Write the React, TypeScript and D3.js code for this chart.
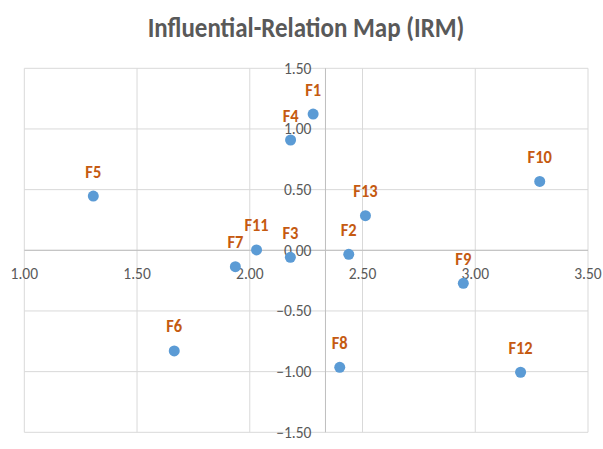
import * as React from "react";
import { format, mean, scaleLinear } from "d3";

// factors and their (D+R, D-R) coordinates
const factors = ["F1", "F2", "F3", "F4", "F5", "F6", "F7", "F8", "F9", "F10", "F11", "F12", "F13"];
const prominence = [2.281, 2.439, 2.18, 2.181, 1.306, 1.665, 1.936, 2.399, 2.947, 3.286, 2.03, 3.201, 2.513];
const relation = [1.123, -0.033, -0.058, 0.909, 0.447, -0.829, -0.135, -0.964, -0.272, 0.568, 0.003, -1.005, 0.285];

const xTicks = [1, 1.5, 2, 2.5, 3, 3.5];
const yTicks = [-1.5, -1, -0.5, 0, 0.5, 1, 1.5];

const W = 603;
const H = 449;
const FONT = "Carlito, Lato, 'Open Sans', sans-serif";

const App = () => {
  const xScale = scaleLinear().domain([1, 3.5]).range([24.3, 588]);
  const yScale = scaleLinear().domain([-1.5, 1.5]).range([432.3, 68.3]);
  const fmt = format(".2f");

  // vertical axis crosses at the average of D+R
  const crossX = xScale(mean(prominence) as number);
  const zeroY = yScale(0);

  return (
    <svg width={W} height={H} style={{ position: "absolute", left: 0, top: 0, background: "white" }} fontFamily={FONT}>
      <g transform="translate(306,37) scale(1,1.12)">
        <text textAnchor="middle" fontSize={25} fontWeight="bold" fill="#595959">
          Influential-Relation Map (IRM)
        </text>
      </g>

      {/* grid */}
      {xTicks.map((t) => (
        <line key={"gx" + t} x1={xScale(t)} x2={xScale(t)} y1={yScale(-1.5)} y2={yScale(1.5)} stroke="#D9D9D9" strokeWidth={1} />
      ))}
      {yTicks.map((t) => (
        <line key={"gy" + t} x1={xScale(1)} x2={xScale(3.5)} y1={yScale(t)} y2={yScale(t)} stroke="#D9D9D9" strokeWidth={1} />
      ))}

      {/* axes */}
      <line x1={xScale(1)} x2={xScale(3.5)} y1={zeroY} y2={zeroY} stroke="#BFBFBF" strokeWidth={1} />
      <line x1={crossX} x2={crossX} y1={yScale(-1.5)} y2={yScale(1.5)} stroke="#BFBFBF" strokeWidth={1} />

      {xTicks.map((t) => (
        <text key={"tx" + t} x={xScale(t)} y={zeroY + 23} dy="0.35em" textAnchor="middle" fontSize={15.5} fill="#595959">
          {fmt(t)}
        </text>
      ))}
      {yTicks.map((t) => (
        <text key={"ty" + t} x={crossX - 14} y={yScale(t)} dy="0.35em" textAnchor="end" fontSize={15.5} fill="#595959">
          {fmt(t)}
        </text>
      ))}

      {/* points */}
      {factors.map((f, i) => (
        <circle key={f} cx={xScale(prominence[i])} cy={yScale(relation[i])} r={5.5} fill="#5B9BD5" />
      ))}
      {factors.map((f, i) => (
        <g key={"l" + f} transform={`translate(${xScale(prominence[i])},${yScale(relation[i]) - 18.5}) scale(1,1.12)`}>
          <text textAnchor="middle" fontSize={16.5} fontWeight="bold" fill="#C55A11">
            {f}
          </text>
        </g>
      ))}
    </svg>
  );
};

export default App;
